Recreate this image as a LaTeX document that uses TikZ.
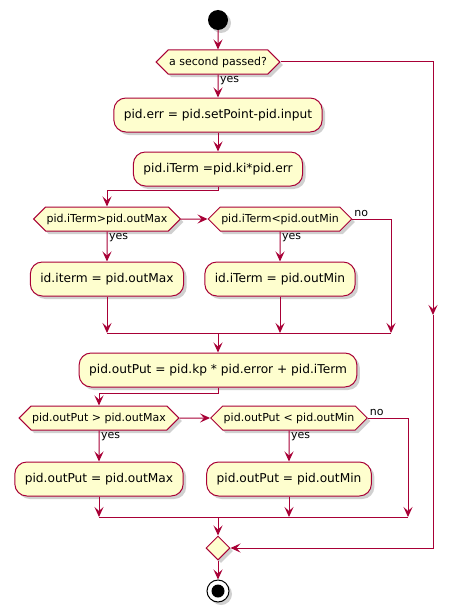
\documentclass[tikz,border=0pt]{standalone}
\usepackage{fontspec}
\setmainfont{DejaVu Sans}
\usetikzlibrary{arrows.meta,shapes.geometric,shapes.symbols,shadows}
\definecolor{umlred}{HTML}{A80036}
\definecolor{umlfill}{HTML}{FEFECE}
\definecolor{umlshade}{HTML}{8A8A8A}
\tikzstyle{umlshadow}=[drop shadow={shadow xshift=3pt,shadow yshift=-3pt,fill=umlshade,opacity=0.4}]
\tikzstyle{actbox}=[draw=umlred,fill=umlfill,line width=1pt,rounded corners=12pt,
  minimum height=34pt,inner xsep=10pt,font=\fontsize{12.2}{14}\selectfont,umlshadow]
\tikzstyle{askbox}=[draw=umlred,fill=umlfill,line width=1pt,signal,signal to=east and west,
  minimum height=24pt,inner xsep=1pt,inner ysep=2pt,font=\fontsize{11}{13}\selectfont,umlshadow]
\tikzstyle{mergebox}=[draw=umlred,fill=umlfill,line width=1pt,diamond,minimum width=24pt,
  minimum height=24pt,inner sep=0pt,umlshadow]
\tikzstyle{startdot}=[circle,fill=black,minimum size=20pt,inner sep=0pt,umlshadow]
\tikzstyle{stopring}=[circle,draw=black,fill=white,line width=1pt,minimum size=22pt,inner sep=0pt,umlshadow]
\tikzstyle{stopdot}=[circle,fill=black,minimum size=13pt,inner sep=0pt]
\tikzstyle{wire}=[draw=umlred,line width=1pt]
\tikzstyle{flow}=[wire,-{Stealth[length=10pt,width=9pt,inset=4pt]}]
\tikzstyle{guard}=[font=\fontsize{11}{13}\selectfont,inner sep=1.5pt,text=black]

\begin{document}
\begin{tikzpicture}[x=1pt,y=-1pt]
  \useasboundingbox (0,0) rectangle (458,610);
  \node[startdot] (start) at (218,20) {};
  \node[askbox] (tick) at (218,62) {a second passed?};
  \node[actbox] (err) at (218,115) {pid.err = pid.setPoint-pid.input};
  \node[actbox] (iterm) at (218,169) {pid.iTerm =pid.ki*pid.err};
  \node[askbox] (imax) at (107,219) {pid.iTerm>pid.outMax};
  \node[askbox] (imin) at (280,219) {pid.iTerm<pid.outMin};
  \node[actbox] (clipmax) at (107,279) {id.iterm = pid.outMax};
  \node[actbox] (clipmin) at (280,279) {id.iTerm = pid.outMin};
  \node[actbox] (out) at (218,370) {pid.outPut = pid.kp * pid.error + pid.iTerm};
  \node[askbox] (omax) at (99,418) {pid.outPut > pid.outMax};
  \node[askbox] (omin) at (289,418) {pid.outPut < pid.outMin};
  \node[actbox] (limmax) at (99,479) {pid.outPut = pid.outMax};
  \node[actbox] (limmin) at (289,479) {pid.outPut = pid.outMin};
  \node[mergebox] (join) at (218,548) {};
  \node[stopring] (stop) at (218,591) {};
  \node[stopdot] (stopin) at (stop) {};
  \coordinate (bar1) at (218,333);
  \coordinate (bar2) at (218,517);
  \coordinate (inone) at (391,219);
  \coordinate (onone) at (408,418);
  \coordinate (skip) at (433,62);
  \coordinate (skipmid) at (433,315);

  \draw[flow] (start) -- (tick);
  \draw[flow] (tick) -- node[guard,pos=0,anchor=north west]{yes} (err);
  \draw[flow] (err) -- (iterm);
  \draw[flow] (iterm.south) -- ++(0,4) -| (imax.north);
  \draw[flow] (imax) -- (imin);
  \draw[flow] (imax) -- node[guard,pos=0,anchor=north west]{yes} (clipmax);
  \draw[flow] (imin) -- node[guard,pos=0,anchor=north west]{yes} (clipmin);
  \draw[flow] (imin.east) -- node[guard,pos=0,anchor=south west]{no} (inone) -- (inone |- bar1);
  \draw[flow] (clipmax) -- (clipmax |- bar1);
  \draw[flow] (clipmin) -- (clipmin |- bar1);
  \draw[wire] (clipmax |- bar1) -- (inone |- bar1);
  \draw[flow] (bar1) -- (out);

  \draw[flow] (out.south) -- ++(0,6) -| (omax.north);
  \draw[flow] (omax) -- (omin);
  \draw[flow] (omax) -- node[guard,pos=0,anchor=north west]{yes} (limmax);
  \draw[flow] (omin) -- node[guard,pos=0,anchor=north west]{yes} (limmin);
  \draw[flow] (omin.east) -- node[guard,pos=0,anchor=south west]{no} (onone) -- (onone |- bar2);
  \draw[flow] (limmax) -- (limmax |- bar2);
  \draw[flow] (limmin) -- (limmin |- bar2);
  \draw[wire] (limmax |- bar2) -- (onone |- bar2);
  \draw[flow] (bar2) -- (join);
  \draw[flow] (join) -- (stop);

  \draw[flow] (tick.east) -- (skip) -- (skipmid);
  \draw[flow] (skipmid) -- (skipmid |- join) -- (join.east);
\end{tikzpicture}
\end{document}
